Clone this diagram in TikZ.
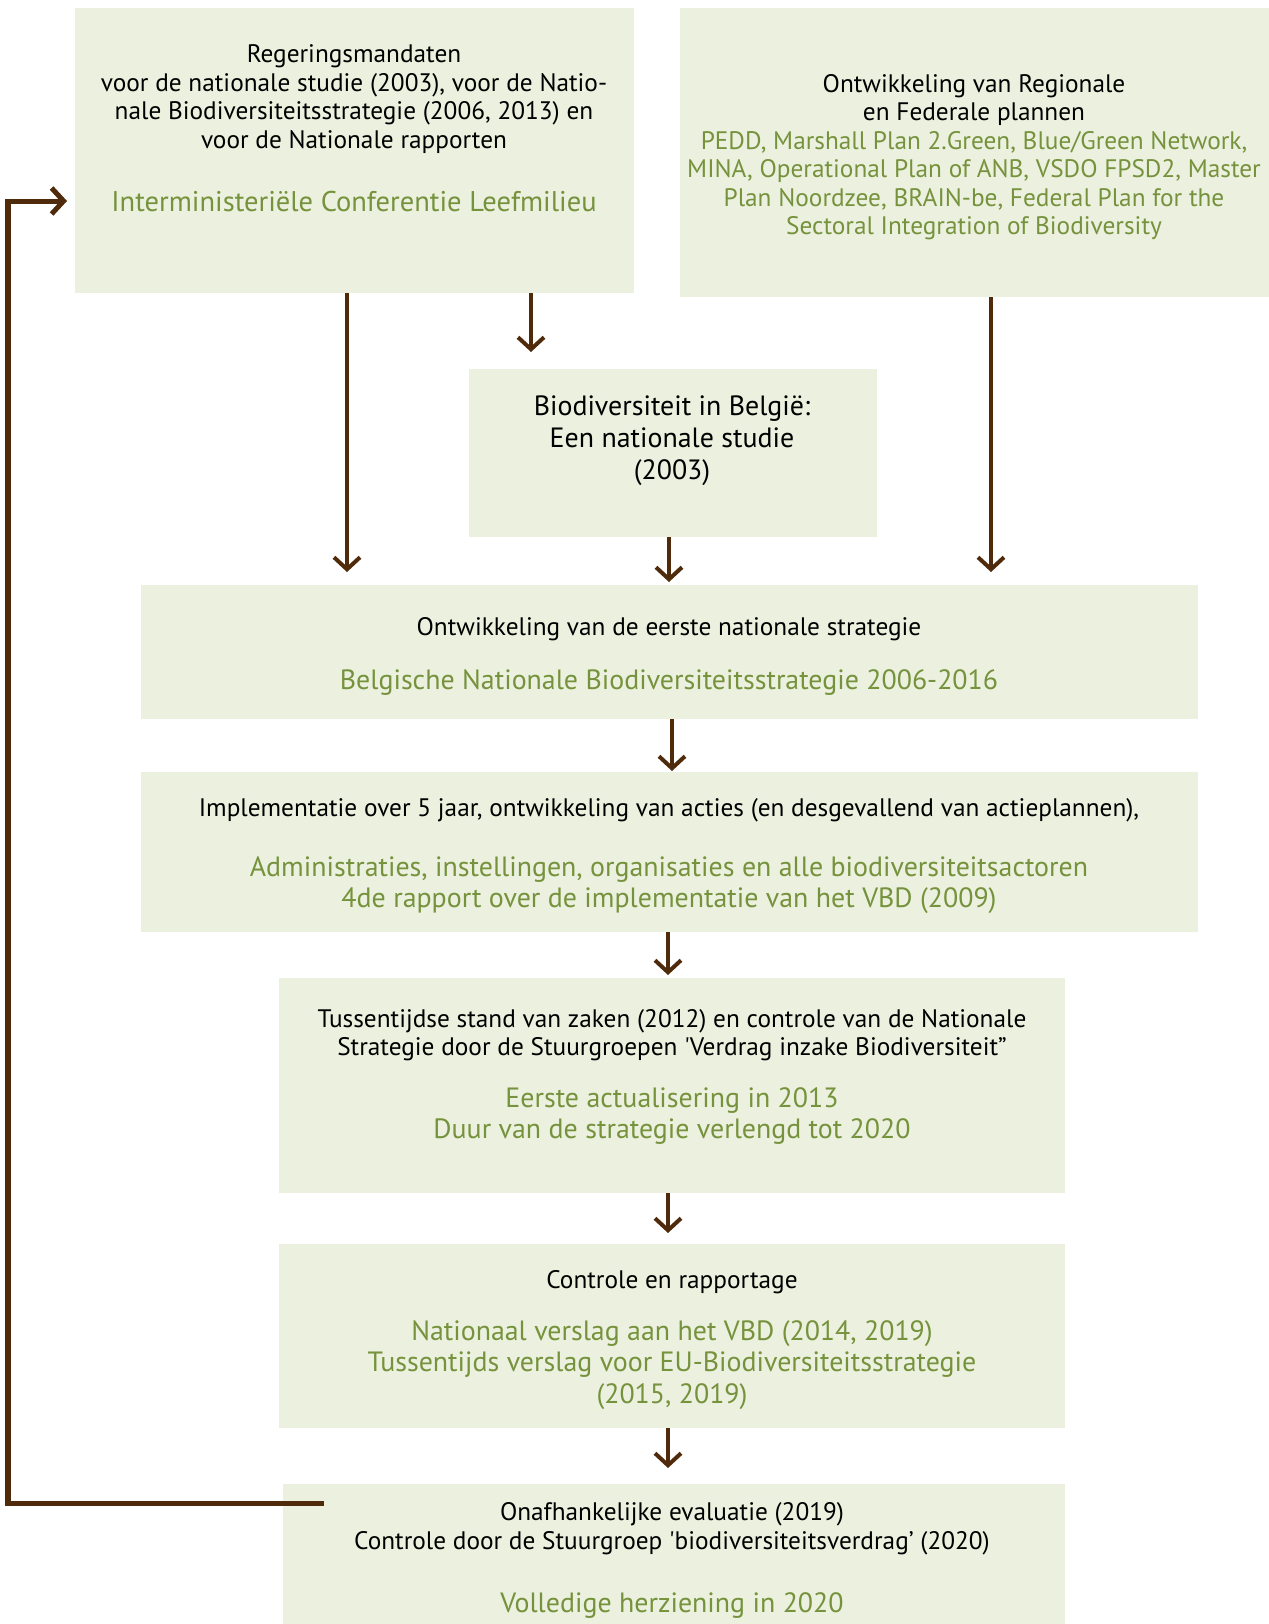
\documentclass[tikz,border=0pt]{standalone}
\usepackage{fontspec}
\setmainfont{PT Sans}
\usepackage{tikz}
\usetikzlibrary{arrows.meta,positioning}
\definecolor{boxgreen}{HTML}{EBF1DE}
\definecolor{leafgreen}{HTML}{76923C}
\definecolor{bark}{HTML}{4F2B0C}

\begin{document}
\begin{tikzpicture}[x=0.5bp,y=-0.5bp,
  box/.style={fill=boxgreen,inner sep=0pt,outer sep=0pt},
  head/.style={align=center,inner sep=0pt,font=\fontsize{12.7}{14.3}\selectfont},
  lead/.style={align=center,inner sep=0pt,text=leafgreen,font=\fontsize{14}{15.7}\selectfont},
  flow/.style={-{Straight Barb[length=6bp,width=13bp]},line width=2bp,draw=bark},
]
\useasboundingbox (0,0) rectangle (1269,1624);

% boxes
\node (regmand) at (354.5,150.5)[box,minimum width=279.5bp,minimum height=142.5bp] {};
\node (plannen) at (974.5,152.5)[box,minimum width=294.5bp,minimum height=144.5bp] {};
\node (studie) at (673,453)[box,minimum width=204bp,minimum height=84bp] {};
\node (eerste) at (669.5,652)[box,minimum width=528.5bp,minimum height=67bp] {};
\node (uitvoer) at (669.5,852)[box,minimum width=528.5bp,minimum height=80bp] {};
\node (tussen) at (672,1085.5)[box,minimum width=393bp,minimum height=107.5bp] {};
\node (rapport) at (672,1336)[box,minimum width=393bp,minimum height=92bp] {};
\node (evaluatie) at (674,1554)[box,minimum width=391bp,minimum height=70bp] {};

% texts
\begin{scope}[shift={(0,3)}]
\node (regmandT) at (354,96)[head] {Regeringsmandaten\\voor de nationale studie (2003), voor de Natio-\\nale Biodiversiteitsstrategie (2006, 2013) en\\voor de Nationale rapporten};
\node (regmandG) at (354,199)[lead,font=\fontsize{14.3}{16}\selectfont] {Interministeriële Conferentie Leefmilieu};
\node (plannenT) at (974,154)[head] {Ontwikkeling van Regionale\\en Federale plannen\\\color{leafgreen}PEDD, Marshall Plan 2.Green, Blue/Green Network,\\\color{leafgreen}MINA, Operational Plan of ANB, VSDO FPSD2, Master\\\color{leafgreen}Plan Noordzee, BRAIN-be, Federal Plan for the\\\color{leafgreen}Sectoral Integration of Biodiversity};
\node (studieT) at (672,438)[head,font=\fontsize{14}{16}\selectfont] {Biodiversiteit in België:\\Een nationale studie\\(2003)};
\node (eersteT) at (669,626)[head] {Ontwikkeling van de eerste nationale strategie};
\node (eersteG) at (669,680)[lead] {Belgische Nationale Biodiversiteitsstrategie 2006-2016};
\node (uitvoerT) at (669,807)[head] {Implementatie over 5 jaar, ontwikkeling van acties (en desgevallend van actieplannen),};
\node (uitvoerG) at (669,882)[lead] {Administraties, instellingen, organisaties en alle biodiversiteitsactoren\\4de rapport over de implementatie van het VBD (2009)};
\node (tussenT) at (672,1032)[head] {Tussentijdse stand van zaken (2012) en controle van de Nationale\\Strategie door de Stuurgroepen \textquotesingle Verdrag inzake Biodiversiteit”};
\node (tussenG) at (672,1113)[lead] {Eerste actualisering in 2013\\Duur van de strategie verlengd tot 2020};
\node (rapportT) at (672,1279)[head] {Controle en rapportage};
\node (rapportG) at (672,1362)[lead] {Nationaal verslag aan het VBD (2014, 2019)\\Tussentijds verslag voor EU-Biodiversiteitsstrategie\\(2015, 2019)};
\node (evaluatieT) at (672,1526)[head] {Onafhankelijke evaluatie (2019)\\Controle door de Stuurgroep \textquotesingle biodiversiteitsverdrag’ (2020)};
\node (evaluatieG) at (672,1603)[lead] {Volledige herziening in 2020};
\end{scope}

% arrows
\draw[flow,shorten >=6.5bp] (347,0 |- regmand.south) -- (347,0 |- eerste.north);
\draw[flow,shorten >=8.5bp] (531,0 |- regmand.south) -- (531,0 |- studie.north);
\draw[flow,shorten >=6.5bp] (991,0 |- plannen.south) -- (991,0 |- eerste.north);
\draw[flow,shorten >=1.5bp] (669,0 |- studie.south) -- (669,0 |- eerste.north);
\draw[flow,shorten >=0.5bp] (672,0 |- eerste.south) -- (672,0 |- uitvoer.north);
\draw[flow,shorten >=1.5bp] (668,0 |- uitvoer.south) -- (668,0 |- tussen.north);
\draw[flow,shorten >=5.5bp] (668,0 |- tussen.south) -- (668,0 |- rapport.north);
\draw[flow,shorten >=8bp] (668,0 |- rapport.south) -- (668,0 |- evaluatie.north);
% feedback loop
\coordinate (terug) at (324,1503);
\draw[flow,line width=2.5bp,shorten >=4bp] (terug) -| (8,201) -- (regmand.west |- 0,201);
\end{tikzpicture}
\end{document}
